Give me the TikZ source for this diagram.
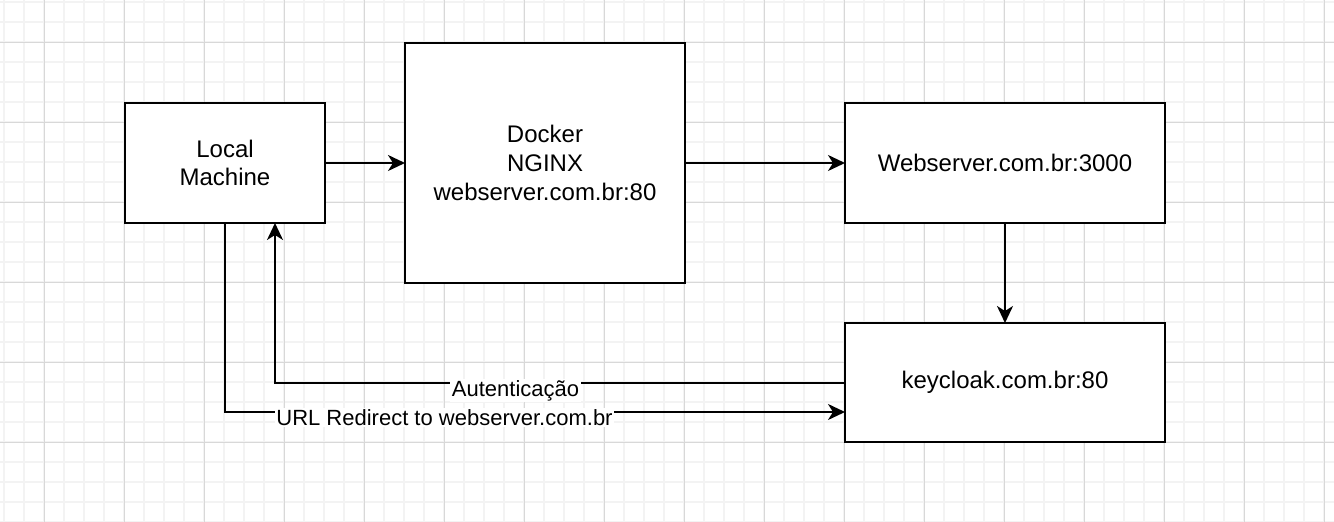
\documentclass[tikz,border=0pt]{standalone}
\usepackage{fontspec}
\setmainfont{Liberation Sans}
\usetikzlibrary{arrows.meta}
\definecolor{gridminor}{HTML}{F3F3F3}
\definecolor{gridmajor}{HTML}{D8D8D8}
\begin{document}
\begin{tikzpicture}[x=1pt,y=-1pt,
  box/.style={draw=black, line width=2.5pt, fill=white, inner sep=0pt, outer sep=0pt,
    align=center, font=\fontsize{24}{28.8}\selectfont},
  arr/.style={draw=black, line width=2pt, -{Stealth[length=17pt,width=16pt,inset=5pt]}},
  lbl/.style={fill=white, inner sep=1.5pt, anchor=base, yshift=-13.5pt,
    font=\fontsize{22}{26.4}\selectfont}]
\useasboundingbox (0,0) rectangle (1334,522);
\fill[white] (0,0) rectangle (1334,522);
% grid
\foreach \x in {4,24,...,1334} \draw[gridminor, line width=1.5pt] (\x,0) -- (\x,522);
\foreach \y in {2,22,...,522} \draw[gridminor, line width=1.5pt] (0,\y) -- (1334,\y);
\foreach \x in {44,124,...,1334} \draw[gridmajor, line width=1pt] (\x,0) -- (\x,522);
\foreach \y in {42,122,...,522} \draw[gridmajor, line width=1pt] (0,\y) -- (1334,\y);
% nodes
\node[box, minimum width=200pt, minimum height=120pt] (lm) at (225,163) {Local\\Machine};
\node[box, minimum width=280pt, minimum height=240pt] (dk) at (545,163) {Docker\\NGINX\\webserver.com.br:80};
\node[box, minimum width=320pt, minimum height=120pt] (ws) at (1005,163) {Webserver.com.br:3000};
\node[box, minimum width=320pt, minimum height=119pt] (kc) at (1005,382.5) {keycloak.com.br:80};
\coordinate (lmup) at ([xshift=50pt]lm.south);
\coordinate (kcin) at ([yshift=-29.5pt]kc.west);
% edges
\draw[arr] (lm) -- (dk);
\draw[arr] (dk) -- (ws);
\draw[arr] (ws) -- (kc);
\draw[arr] (kc.west) -| node[lbl, pos=0.289] {Autenticação} (lmup);
\draw[arr] (lm.south) |- node[lbl, pos=0.677] {URL Redirect to webserver.com.br} (kcin);
\end{tikzpicture}
\end{document}
